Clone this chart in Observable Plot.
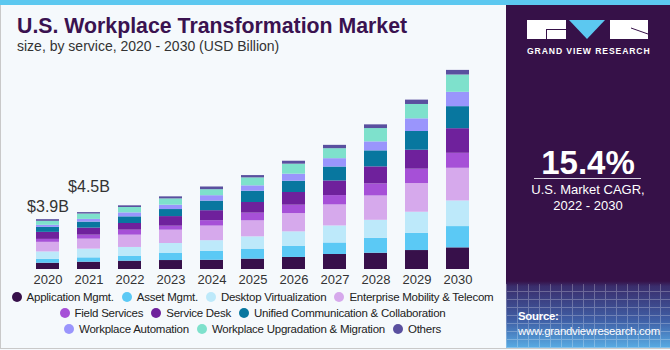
<!DOCTYPE html>
<html>
<head>
<meta charset="utf-8">
<script src="https://cdn.jsdelivr.net/npm/d3@7"></script>
<script src="https://cdn.jsdelivr.net/npm/@observablehq/plot@0.6"></script>
<style>
  html, body { margin: 0; padding: 0; background: #f5f9fc; }
  #root { position: relative; width: 670px; height: 350px; background: #f5f9fc; overflow: hidden;
          font-family: "Liberation Sans", Arial, sans-serif; }
  #stripe { position: absolute; left: 0; top: 0; width: 670px; height: 5px; background: #5cc8f0; }
  #frame { position: absolute; left: 0; top: 5px; width: 668px; height: 343px; border: 1px solid #c9c9c9; border-top: none; }
  #title { position: absolute; left: 17px; top: 14px; font-weight: bold;
           font-size: 21.3px; color: #3a1250; white-space: nowrap; letter-spacing: 0px; }
  #subtitle { position: absolute; left: 17px; top: 38px;
              font-size: 14px; color: #333; white-space: nowrap; }
  #chart { position: absolute; left: 0; top: 60px; }
  #legend { position: absolute; left: 0; top: 289px; width: 505px; font-size: 11.5px; color: #222; letter-spacing: -0.25px; }
  .row { display: flex; justify-content: center; align-items: center; height: 16px; white-space: nowrap; }
  .item { display: flex; align-items: center; margin: 0 4px; }
  .dot { width: 10px; height: 10px; border-radius: 50%; margin-right: 5px; }
  #panel { position: absolute; left: 506px; top: 5px; width: 164px; height: 343px;
           background: linear-gradient(to bottom, #361148 0%, #361148 80.5%, #3a2d6c 82%, #3f5fa6 92%, #58ace4 100%); }
  #mesh { position: absolute; left: 0; top: 279px; width: 164px; height: 64px; opacity: 0.25;
          background-image: repeating-linear-gradient(90deg, #fff 0 1px, transparent 1px 11px),
                            repeating-linear-gradient(0deg, #fff 0 1px, transparent 1px 8px); }
  .blk { position: absolute; background: #fff; }
  #gvr { position: absolute; left: 21px; top: 41px; font-weight: bold;
         font-size: 8.6px; letter-spacing: 0.9px; color: #fff; white-space: nowrap; }
  #cagr { position: absolute; left: 0; width: 164px; top: 139px; text-align: center;
          font-weight: bold; font-size: 33px; color: #fff; }
  #rule { position: absolute; left: 28px; top: 173px; width: 107px; height: 1px; background: #d8d0e0; }
  #cagrtxt { position: absolute; left: 0; width: 164px; top: 177px; text-align: center;
             font-size: 13px; line-height: 16px; color: #fff; }
  #src { position: absolute; left: 12px; top: 304px; font-size: 11.4px;
         line-height: 15px; color: #fff; white-space: nowrap; letter-spacing: -0.25px; }
</style>
</head>
<body>
<div id="root">
  <div id="stripe"></div>
  <div id="frame"></div>
  <div id="title">U.S. Workplace Transformation Market</div>
  <div id="subtitle">size, by service, 2020 - 2030 (USD Billion)</div>
  <div id="chart"></div>
  <div id="legend"></div>
  <div id="panel">
    <div id="mesh"></div>
    <div class="blk" style="left:21px;top:15px;width:39px;height:19px;"></div>
    <div style="position:absolute;left:40px;top:24px;width:20px;height:1px;background:#361148;"></div>
    <div style="position:absolute;left:40px;top:24px;width:1px;height:10px;background:#361148;"></div>
    <div style="position:absolute;left:63px;top:15px;width:0;height:0;border-left:18.5px solid transparent;border-right:18.5px solid transparent;border-top:19px solid #5cc8f0;"></div>
    <div class="blk" style="left:104px;top:15px;width:38px;height:19px;"></div>
    <svg style="position:absolute;left:104px;top:15px" width="38" height="19"><line x1="21" y1="8" x2="38" y2="14" stroke="#361148" stroke-width="1"/></svg>
    <div id="gvr">GRAND VIEW RESEARCH</div>
    <div id="cagr">15.4%</div>
    <div id="rule"></div>
    <div id="cagrtxt">U.S. Market CAGR,<br>2022 - 2030</div>
    <div id="src"><b>Source:</b><br>www.grandviewresearch.com</div>
  </div>
</div>
<script>
// ---- data (USD Billion) ----
const years = ["2020","2021","2022","2023","2024","2025","2026","2027","2028","2029","2030"];
const segments = ["Application Mgmt.","Asset Mgmt.","Desktop Virtualization","Enterprise Mobility & Telecom",
  "Field Services","Service Desk","Unified Communication & Collaboration","Workplace Automation",
  "Workplace Upgradation & Migration","Others"];
const colors = ["#37104a","#5bc9f5","#bde9fa","#d6a9ec","#a650d7","#6f219c","#08779f","#9a95fc","#7ee1cc","#5a509f"];
const appMgmt      = [0.49,0.57,0.65,0.70,0.72,0.81,0.94,1.17,1.27,1.48,1.69];
const assetMgmt    = [0.31,0.34,0.39,0.55,0.70,0.78,0.88,0.90,1.17,1.35,1.66];
const desktopVirt  = [0.57,0.68,0.68,0.78,0.83,0.96,1.12,1.33,1.40,1.64,2.00];
const enterprise   = [0.75,0.78,0.96,1.04,1.14,1.25,1.43,1.64,1.90,2.24,2.55];
const fieldServ    = [0.23,0.31,0.39,0.31,0.42,0.60,0.65,0.73,0.94,1.12,1.17];
const serviceDesk  = [0.55,0.55,0.52,0.75,0.78,0.83,0.99,1.14,1.33,1.48,1.92];
const unifiedComm  = [0.39,0.47,0.52,0.55,0.75,0.88,0.88,1.09,1.25,1.46,1.72];
const automation   = [0.16,0.21,0.31,0.34,0.42,0.42,0.55,0.65,0.70,0.99,1.12];
const upgradation  = [0.31,0.42,0.42,0.49,0.47,0.62,0.78,0.78,1.04,1.12,1.35];
const others       = [0.13,0.11,0.13,0.16,0.21,0.18,0.23,0.26,0.29,0.34,0.36];
const labelYears = ["2020","2021"];
const labelTexts = ["$3.9B","$4.5B"];

const series = [appMgmt, assetMgmt, desktopVirt, enterprise, fieldServ, serviceDesk, unifiedComm, automation, upgradation, others];
const data = [];
series.forEach((vals, si) => vals.forEach((v, yi) => data.push({year: years[yi], segment: segments[si], value: v})));
const totals = years.map((y, yi) => d3.sum(series, s => s[yi]));
const labels = labelYears.map((y, i) => ({year: y, total: totals[years.indexOf(y)], text: labelTexts[i]}));

const plot = Plot.plot({
  width: 505, height: 230,
  marginTop: 4, marginBottom: 21, marginLeft: 13, marginRight: 12,
  style: {background: "transparent", fontFamily: "'Liberation Sans', Arial, sans-serif", fontSize: "13px", color: "#333"},
  x: {domain: years, padding: 0.43, label: null, tickSize: 0, tickPadding: 5},
  y: {domain: [0, 16], axis: null},
  color: {domain: segments, range: colors},
  marks: [
    Plot.barY(data, {x: "year", y: "value", fill: "segment"}),
    Plot.text(labels.slice(0,1), {x: "year", y: "total", text: "text", lineAnchor: "bottom", dy: -8, fontSize: 16, fill: "#333"}),
    Plot.text(labels.slice(1,2), {x: "year", y: "total", text: "text", lineAnchor: "bottom", dy: -21, fontSize: 16, fill: "#333"})
  ]
});
document.getElementById("chart").appendChild(plot);

// legend built from the plot's color scale
const color = plot.scale("color");
const rows = [segments.slice(0,4), segments.slice(4,7), segments.slice(7)];
const leg = document.getElementById("legend");
rows.forEach(r => {
  const row = document.createElement("div"); row.className = "row";
  r.forEach(s => {
    const it = document.createElement("div"); it.className = "item";
    const c = color.range[color.domain.indexOf(s)];
    it.innerHTML = `<span class="dot" style="background:${c}"></span><span>${s.replace("&","&amp;")}</span>`;
    row.appendChild(it);
  });
  leg.appendChild(row);
});
</script>
</body>
</html>
